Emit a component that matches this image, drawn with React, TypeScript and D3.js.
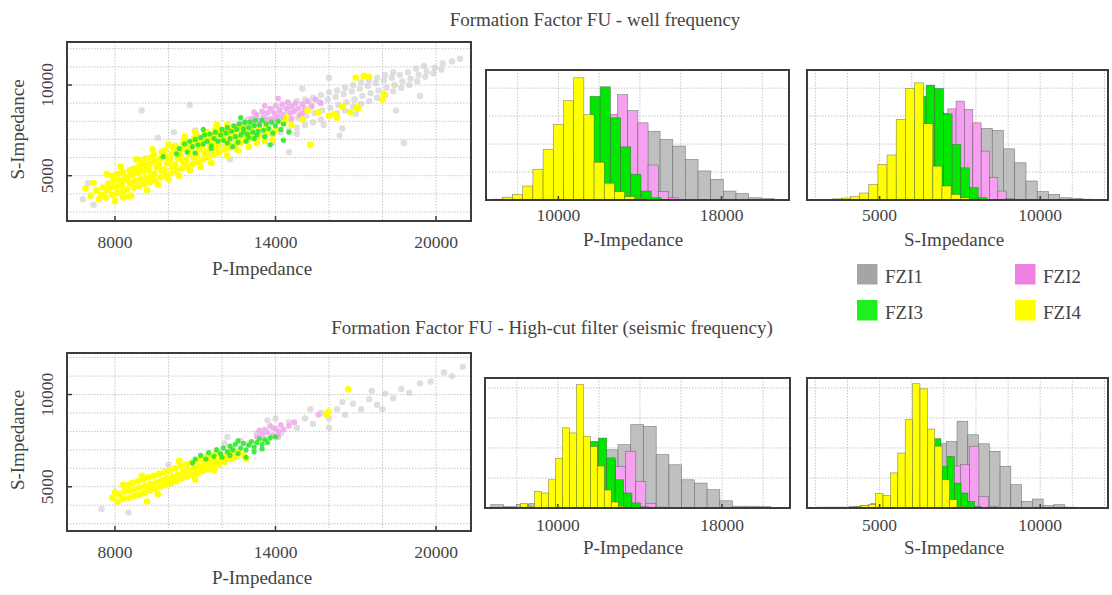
import React from 'react';
import * as d3 from 'd3';

const FONT = '"Liberation Serif", "DejaVu Serif", serif';

// ---------- scatter data: [P-Impedance, S-Impedance] ----------
const topYellow: [number, number][] = [
  [7500,3950],[7550,4350],[7650,3800],[7700,4200],[7750,4550],[7900,3950],[7850,4350],[7950,4700],[7900,5000],
  [8100,4050],[8050,4400],[8150,4750],[8100,5100],[8300,4150],[8250,4500],[8350,4800],[8300,5200],
  [8500,3850],[8450,4250],[8550,4600],[8500,4950],[8550,5300],[8700,4350],[8750,4700],[8650,5050],[8700,5400],
  [8900,4450],[8950,4800],[8850,5150],[8900,5500],[8950,5800],[9100,4550],[9150,4900],[9050,5250],[9100,5600],[9150,5950],
  [9300,4650],[9350,4950],[9250,5300],[9300,5650],[9350,6000],[9500,4750],[9450,5100],[9550,5450],[9500,5800],[9450,6150],
  [9700,4900],[9750,5250],[9650,5600],[9700,5950],[9750,6300],[9900,5000],[9850,5350],[9950,5700],[9900,6050],[9850,6400],
  [10100,5150],[10150,5500],[10050,5850],[10100,6200],[10150,6550],[10300,5250],[10250,5600],[10350,5950],[10300,6300],[10250,6650],
  [10500,5400],[10550,5750],[10450,6100],[10500,6450],[10550,6800],[10700,5500],[10650,5850],[10750,6200],[10700,6550],[10650,6900],
  [10900,5650],[10950,6000],[10850,6350],[10900,6700],[10950,7050],[11100,5750],[11050,6100],[11150,6450],[11100,6800],[11050,7150],
  [11300,5900],[11350,6250],[11250,6600],[11300,6950],[11350,7300],[11500,6000],[11450,6350],[11550,6700],[11500,7050],[11450,7400],
  [11700,6150],[11750,6500],[11650,6850],[11700,7200],[11750,7500],[11900,6300],[11850,6650],[11950,7000],[11900,7300],[11850,7600],
  [12100,6450],[12150,6800],[12050,7100],[12100,7400],[12300,6550],[12250,6900],[12350,7200],[12300,7500],
  [12500,6700],[12550,7000],[12450,7300],[12500,7600],[12700,6800],[12650,7100],[12750,7400],[12700,7700],
  [12900,6950],[12950,7250],[12850,7550],[13100,7050],[13150,7400],[13050,7700],[13400,7200],[13350,7550],[13700,7350],[13650,7700],[14000,7500],
  [6900,4300],[7100,3900],[7300,4200],[7400,3700],[7200,4600],[8000,3600],[8300,3800],[7700,5100],[8200,5500],[8800,5900],
  [8600,3900],[9200,4200],[9600,4500],[9400,6450],[10000,4800],[10400,5000],[10000,6700],[10800,5300],[10600,7150],[11200,5500],
  [11000,7400],[11600,5700],[11800,7800],[12200,6100],[12600,6400],[12200,7800],[13000,6600],[13300,6800],[13600,6900],[13900,7000],
  [14300,7900],[14600,7800],[15000,8100],[15300,6700],[15600,8500],[16300,8200],[16500,8800],[16800,8500],[17100,8700],[17000,10400],
  [17300,10500],[17500,10450],[18000,9200],[18050,9500],[16000,8300],[14400,8200],[15200,8600],[17050,8750],[16200,8400]
];
const topGreen: [number, number][] = [
  [10400,6500],[10600,6750],[10700,6300],[10800,6900],[10900,6600],[11000,7000],[11100,6700],[11200,7100],[11300,6750],[11350,7250],
  [11450,6900],[11550,7300],[11600,6650],[11700,7050],[11750,7400],[11850,6900],[11950,7250],[12000,7550],[12050,6950],[12150,7350],
  [12200,7650],[12300,7050],[12350,7450],[12450,7750],[12500,7150],[12550,7550],[12650,7850],[12700,7250],[12800,7600],[12850,7950],
  [12950,7300],[13000,7650],[13050,7950],[13150,7400],[13200,7750],[13250,8050],[13350,7450],[13400,7800],[13500,8050],[13550,7500],
  [13650,7850],[13750,7600],[13850,7950],[13900,7350],[14000,7750],[14100,8000],[14200,7550],[14300,7850],[12900,6900],[13200,7050],
  [13600,7150],[12600,6850],[12200,6800],[11600,6500],[11000,6250],[10300,6200],[13800,6700],[14300,6950],[12700,8200],[11300,7550],
  [9800,6050],[14500,7400],[12400,6600],[13000,7100],[12800,7400],[13300,7250]
];
const topPink: [number, number][] = [
  [12900,7900],[13100,8150],[13200,7850],[13300,8350],[13400,8050],[13500,8550],[13550,8200],[13650,7950],[13700,8450],[13800,8700],
  [13850,8150],[13950,8450],[14000,8850],[14100,8250],[14150,8600],[14250,8950],[14300,8350],[14400,8700],[14450,9050],[14550,8450],
  [14600,8800],[14700,8550],[14750,9000],[14850,8700],[14900,8350],[15000,8950],[15100,8650],[15200,9100],[15350,8800],[15500,9200],
  [13400,7750],[13700,8100],[14000,8150],[14300,8150],[14600,8150],[15000,8450],[12800,7800],[14100,9250],[13600,8850],[15700,9000],
  [13200,8500],[12600,7700]
];
const topGray: [number, number][] = [
  [11500,6300],[11500,6900],[11800,6500],[11850,7100],[12100,6600],[12150,7200],[12050,7500],[12400,6800],[12450,7400],[12350,7700],
  [12700,6900],[12750,7500],[12650,7900],[13000,7000],[13050,7600],[12950,8100],[13300,7100],[13350,7700],[13250,8250],[13600,7200],
  [13650,7900],[13550,8400],[13900,7300],[13950,7950],[13850,8600],[14200,7400],[14250,8000],[14150,8500],[14200,8800],[14500,7500],
  [14550,8100],[14450,8600],[14500,8950],[14800,7650],[14850,8200],[14750,8700],[14800,9100],[15100,7800],[15150,8300],[15050,8800],
  [15100,9200],[15400,7950],[15450,8450],[15350,8900],[15400,9300],[15700,8100],[15750,8600],[15650,9050],[15700,9450],[16000,8300],
  [16050,8750],[15950,9200],[16000,9600],[16300,8450],[16350,8900],[16250,9350],[16300,9700],[16600,8600],[16650,9050],[16550,9500],
  [16600,9850],[16900,8800],[16950,9200],[16850,9650],[16900,10000],[17200,8950],[17250,9400],[17150,9800],[17200,10150],[17500,9100],
  [17550,9550],[17450,9950],[17500,10250],[17800,9300],[17850,9700],[17750,10100],[17800,10400],[18100,9450],[18150,9850],[18050,10250],
  [18100,10550],[18400,9650],[18450,10000],[18350,10400],[18400,10700],[18700,9850],[18750,10200],[18650,10550],[19000,10000],[19050,10350],
  [18950,10700],[19300,10200],[19350,10550],[19250,10900],[19600,10450],[19650,10750],[19550,11050],[19900,10650],[19950,10950],[20200,10850],
  [20250,11200],[20600,11300],[20900,11450],
  [6800,3700],[7200,3400],[7000,4600],[9600,7100],[10800,8900],[18800,6800],[19400,9400],[16000,10400],[15000,9800],[10200,7400],
  [11000,7500],[14800,7300],[15800,7800],[17000,8400],[18500,8600],[16400,7200],[13900,6800],[9000,8600],[12300,5900],[14500,6300],[16500,7600]
];
const botYellow: [number, number][] = [
  [8100,4200],[8150,4600],[8300,4350],[8350,4750],[8500,4400],[8550,4800],[8500,5100],
  [8700,4500],[8750,4850],[8650,5200],[8900,4550],[8950,4950],[8850,5300],[9100,4650],[9150,5050],[9050,5400],
  [9300,4800],[9350,5150],[9250,5500],[9500,4900],[9550,5250],[9450,5600],[9700,5000],[9750,5350],[9650,5700],
  [9900,5100],[9950,5450],[9850,5800],[10100,5200],[10150,5550],[10050,5900],[10300,5300],[10350,5650],[10250,6000],
  [10500,5450],[10550,5800],[10450,6100],[10700,5550],[10750,5900],[10650,6200],[10900,5650],[10950,6000],[10850,6300],
  [11100,5750],[11150,6100],[11050,6400],[11300,5850],[11350,6200],[11250,6500],[11500,5950],[11550,6300],[11450,6600],
  [11700,6100],[11750,6400],[11650,6700],[11900,6200],[11950,6500],[11850,6800],[12100,6350],[12150,6650],[12300,6500],[12350,6800],
  [12500,6600],[12600,6900],[12800,6700],
  [9200,4200],[8300,5100],[8000,4700],[7900,4400],[9600,4600],[10400,6400],[11000,5400],[11700,5900],[12900,6500],[16720,10290],
  [15970,9060],[15900,8900],[9000,5600]
];
const botGreen: [number, number][] = [
  [11000,6500],[11200,6700],[11400,6500],[11500,6850],[11700,6650],[11800,7000],[11950,6800],[12050,7100],[12200,6900],[12300,7200],
  [12400,7000],[12500,7300],[12600,6800],[12700,7100],[12800,7350],[12900,7000],[13000,7250],[13100,7450],[13200,7150],[13300,7400],
  [13400,7600],[13500,7300],[13600,7550],[13700,7400],[13800,7650],[14000,7700],[12300,6700],[12000,6600],[13200,6900],[12900,6600],
  [10900,6300],[13500,7050],[12600,7500]
];
const botPink: [number, number][] = [
  [13300,7700],[13500,7850],[13600,8100],[13700,7950],[13800,8300],[13900,7800],[14000,8150],[14100,8000],[14200,8350],[14300,8100],
  [14500,8300],[13400,8050],[14100,7700],[15600,8900],[14700,8500]
];
const botGray: [number, number][] = [
  [11500,6600],[11800,7000],[12100,7350],[12400,7050],[12700,7500],[13000,7350],[13300,7900],[13600,7600],[13900,8200],[14200,7900],
  [14500,8500],[14800,8200],[15100,8700],[15400,8400],[15700,9000],[16000,8700],[16300,9200],[16600,8900],[16900,9500],[17200,9200],
  [17500,9750],[17800,9450],[18100,10050],[18400,9800],[18700,10300],[19000,10100],[19400,10600],[19800,10700],[20300,11200],[21000,11500],
  [14000,8700],[15300,9200],[16500,9600],[17600,10200],[13700,8600],[12200,7700],[10000,6200],[7500,3800],[8500,3600],[16000,8200],
  [18000,9200],[20600,11000]
];

// ---------- histogram data: first bin start, bin width, counts ----------
const topPYellow = { start: 6750, width: 500, counts: [3,10,20,50,110,180,270,355,437,305,135,60,30,12,5,2] };
const topPGreen = { start: 9050, width: 500, counts: [5,20,60,150,260,371,405,294,190,92,32,8] };
const topPPink = { start: 10400, width: 500, counts: [10,40,100,200,306,377,320,276,125,30,8] };
const topPGray = { start: 11890, width: 620, counts: [20,60,120,200,246,217,193,145,104,74,32,23,8,5] };
const topSYellow = { start: 3237, width: 285, counts: [2,4,7,12,25,55,127,161,288,399,419,273,121,50,20,8,3] };
const topSGreen = { start: 4559, width: 270, counts: [3,10,30,80,170,280,370,411,399,308,199,115,44,8] };
const topSPink = { start: 5041, width: 260, counts: [5,15,40,90,160,230,280,310,326,354,324,276,175,80,32,5] };
const topSGray = { start: 5357, width: 350, counts: [5,15,40,90,150,200,240,250,256,249,183,133,68,30,20,8,6,3] };
const botPYellow = { start: 8180, width: 340, counts: [15,5,55,50,94,165,267,250,411,239,205,140,60,20,6] };
const botPGreen = { start: 9100, width: 410, counts: [5,15,40,90,150,200,222,233,167,94,50,17,4] };
const botPPink = { start: 10366, width: 490, counts: [10,40,90,130,160,139,189,89,15,3] };
const botPGray = { start: 6731, width: 620, counts: [11,5,12,15,20,50,90,130,170,194,211,278,272,178,144,94,83,61,24,6,6,5] };
const botSYellow = { start: 3957, width: 230, counts: [2,4,8,12,48,41,117,183,294,414,397,263,206,94,28,5] };
const botSGreen = { start: 5438, width: 210, counts: [10,30,70,120,170,210,231,139,172,83,50,22,5] };
const botSPink = { start: 5772, width: 290, counts: [10,30,60,100,130,140,145,206,39,5] };
const botSGray = { start: 3056, width: 335, counts: [3,3,3,5,8,15,30,60,100,150,190,215,222,289,244,214,189,139,78,22,30,8,11,3] };

const legendNames = ['FZI1', 'FZI2', 'FZI3', 'FZI4'];
const legendColors = ['#a5a5a5', '#ef80e4', '#1ef01e', '#ffff00'];
const histColors = { gray: '#bfbfbf', pink: '#f5a0f0', green: '#00e800', yellow: '#ffff00' };
const scatterColors = { gray: '#c4c4c4', pink: '#f2a8ee', green: '#2ee82e', yellow: '#ffff00' };

const scatterXTicks = [8000, 14000, 20000];
const scatterYTicks = [5000, 10000];
const scatterXGrid = [8000, 10000, 12000, 14000, 16000, 18000, 20000];
const scatterYGrid = [3000, 4000, 5000, 6000, 7000, 8000, 9000, 10000, 11000, 12000];
const histPTicks = [10000, 18000];
const histSTicks = [5000, 10000];
const histPGrid = [8000, 10000, 12000, 14000, 16000, 18000, 20000];
const histSGrid = [3000, 4000, 5000, 6000, 7000, 8000, 9000, 10000, 11000, 12000];
const histCountGrid = [100, 200, 300, 400];

const GRID = { stroke: '#b9b9b9', strokeWidth: 0.8, strokeDasharray: '1.5,1.5' };
const FRAME = '#3c3c3c';

type Box = { left: number; right: number; top: number; bottom: number };

function Scatter({ box, xDom, yDom, gray, pink, green, yellow, xLabelY, xTitleY }: any) {
  const x = d3.scaleLinear().domain(xDom).range([box.left, box.right]);
  const y = d3.scaleLinear().domain(yDom).range([box.bottom, box.top]);
  const yMid = (box.top + box.bottom) / 2;
  const pts = (data: [number, number][], color: string, r: number, op: number, key: string) =>
    data.map((d, i) => (
      <circle key={key + i} cx={x(d[0])} cy={y(d[1])} r={r} fill={color} fillOpacity={op} />
    ));
  return (
    <g>
      {scatterXGrid.map((v) => (
        <line key={'gx' + v} x1={x(v)} x2={x(v)} y1={box.top} y2={box.bottom} {...GRID} />
      ))}
      {scatterYGrid.map((v) => (
        <line key={'gy' + v} x1={box.left} x2={box.right} y1={y(v)} y2={y(v)} {...GRID} />
      ))}
      {pts(gray, scatterColors.gray, 3.2, 0.55, 'g')}
      {pts(pink, scatterColors.pink, 2.9, 0.9, 'p')}
      {pts(yellow, scatterColors.yellow, 3.3, 1, 'y')}
      {pts(green, scatterColors.green, 2.6, 0.9, 'n')}
      <rect x={box.left} y={box.top} width={box.right - box.left} height={box.bottom - box.top}
        fill="none" stroke={FRAME} strokeWidth={2} />
      {scatterXTicks.map((v) => (
        <g key={'tx' + v}>
          <line x1={x(v)} x2={x(v)} y1={box.bottom} y2={box.bottom - 5} stroke={FRAME} strokeWidth={1.5} />
          <text x={x(v)} y={xLabelY} textAnchor="middle" fontSize={17.5} fill="#444" fontFamily={FONT}>{v}</text>
        </g>
      ))}
      {scatterYTicks.map((v) => (
        <g key={'ty' + v}>
          <line x1={box.left} x2={box.left + 5} y1={y(v)} y2={y(v)} stroke={FRAME} strokeWidth={1.5} />
          <text transform={`translate(53,${y(v)}) rotate(-90)`} textAnchor="middle" fontSize={17.5} fill="#444" fontFamily={FONT}>{v}</text>
        </g>
      ))}
      <text x={(box.left + box.right) / 2 - 7} y={xTitleY} textAnchor="middle" fontSize={19} fill="#444" fontFamily={FONT}>P-Impedance</text>
      <text transform={`translate(24,${yMid - 2}) rotate(-90)`} textAnchor="middle" fontSize={19} fill="#444" fontFamily={FONT}>S-Impedance</text>
    </g>
  );
}

function Hist({ box, xDom, yMax, series, grid, ticks, label, labelX, tickY, titleY }: any) {
  const x = d3.scaleLinear().domain(xDom).range([box.left, box.right]);
  const y = d3.scaleLinear().domain([0, yMax]).range([box.bottom, box.top]);
  return (
    <g>
      {grid.map((v: number) => (
        <line key={'gx' + v} x1={x(v)} x2={x(v)} y1={box.top} y2={box.bottom} {...GRID} />
      ))}
      {histCountGrid.map((v) => (
        <line key={'gy' + v} x1={box.left} x2={box.right} y1={y(v)} y2={y(v)} {...GRID} />
      ))}
      {series.map((s: any, si: number) =>
        s.data.counts.map((c: number, i: number) => {
          const x0 = x(s.data.start + i * s.data.width);
          const x1 = x(s.data.start + (i + 1) * s.data.width);
          return (
            <rect key={si + '-' + i} x={x0} y={y(c)} width={x1 - x0} height={box.bottom - y(c)}
              fill={s.color} stroke="#4a4a4a" strokeWidth={0.6} strokeOpacity={0.65} />
          );
        })
      )}
      <rect x={box.left} y={box.top} width={box.right - box.left} height={box.bottom - box.top}
        fill="none" stroke={FRAME} strokeWidth={2} />
      {ticks.map((v: number) => (
        <g key={'t' + v}>
          <line x1={x(v)} x2={x(v)} y1={box.bottom} y2={box.bottom - 4} stroke={FRAME} strokeWidth={1.5} />
          <text x={x(v)} y={tickY} textAnchor="middle" fontSize={17.5} fill="#444" fontFamily={FONT}>{v}</text>
        </g>
      ))}
      <text x={labelX} y={titleY} textAnchor="middle" fontSize={19} fill="#444" fontFamily={FONT}>{label}</text>
    </g>
  );
}

export default function App() {
  const sTop: Box = { left: 67, right: 471, top: 42, bottom: 221 };
  const sBot: Box = { left: 67, right: 471, top: 353, bottom: 531 };
  const hTopP: Box = { left: 486, right: 789, top: 70, bottom: 200 };
  const hTopS: Box = { left: 807, right: 1108, top: 70, bottom: 200 };
  const hBotP: Box = { left: 485, right: 790, top: 378, bottom: 508 };
  const hBotS: Box = { left: 807, right: 1108, top: 378, bottom: 508 };
  const pDom = [6450, 21310];
  const sDom = [2740, 12110];
  const order = (g: any, p: any, n: any, yl: any) => [
    { data: g, color: histColors.gray },
    { data: p, color: histColors.pink },
    { data: n, color: histColors.green },
    { data: yl, color: histColors.yellow },
  ];
  return (
    <svg width={1112} height={595} style={{ position: 'absolute', left: 0, top: 0, background: '#fff' }}>
      <rect x={0} y={0} width={1112} height={595} fill="#fff" />
      <text x={595} y={26} textAnchor="middle" fontSize={19} fill="#444" fontFamily={FONT}>
        Formation Factor FU - well frequency
      </text>
      <text x={552} y={334} textAnchor="middle" fontSize={19} fill="#444" fontFamily={FONT}>
        Formation Factor FU - High-cut filter (seismic frequency)
      </text>

      <Scatter box={sTop} xDom={[6206, 21308]} yDom={[2503, 12370]} gray={topGray} pink={topPink}
        green={topGreen} yellow={topYellow} xLabelY={248} xTitleY={275} />
      <Scatter box={sBot} xDom={[6206, 21308]} yDom={[2603, 12251]} gray={botGray} pink={botPink}
        green={botGreen} yellow={botYellow} xLabelY={558} xTitleY={584} />

      <Hist box={hTopP} xDom={pDom} yMax={465} series={order(topPGray, topPPink, topPGreen, topPYellow)}
        grid={histPGrid} ticks={histPTicks} label="P-Impedance" labelX={633} tickY={220.5} titleY={246} />
      <Hist box={hTopS} xDom={sDom} yMax={465} series={order(topSGray, topSPink, topSGreen, topSYellow)}
        grid={histSGrid} ticks={histSTicks} label="S-Impedance" labelX={954} tickY={220.5} titleY={246} />
      <Hist box={hBotP} xDom={pDom} yMax={433} series={order(botPGray, botPPink, botPGreen, botPYellow)}
        grid={histPGrid} ticks={histPTicks} label="P-Impedance" labelX={633} tickY={530.5} titleY={554} />
      <Hist box={hBotS} xDom={sDom} yMax={433} series={order(botSGray, botSPink, botSGreen, botSYellow)}
        grid={histSGrid} ticks={histSTicks} label="S-Impedance" labelX={954} tickY={530.5} titleY={554} />

      {legendNames.map((name, i) => {
        const lx = i % 2 === 0 ? 857 : 1015;
        const ly = i < 2 ? 264 : 300;
        return (
          <g key={name}>
            <rect x={lx} y={ly} width={20.5} height={20.5} fill={legendColors[i]} />
            <text x={lx + 28} y={ly + 19} fontSize={19} fill="#444" fontFamily={FONT}>{name}</text>
          </g>
        );
      })}
    </svg>
  );
}
